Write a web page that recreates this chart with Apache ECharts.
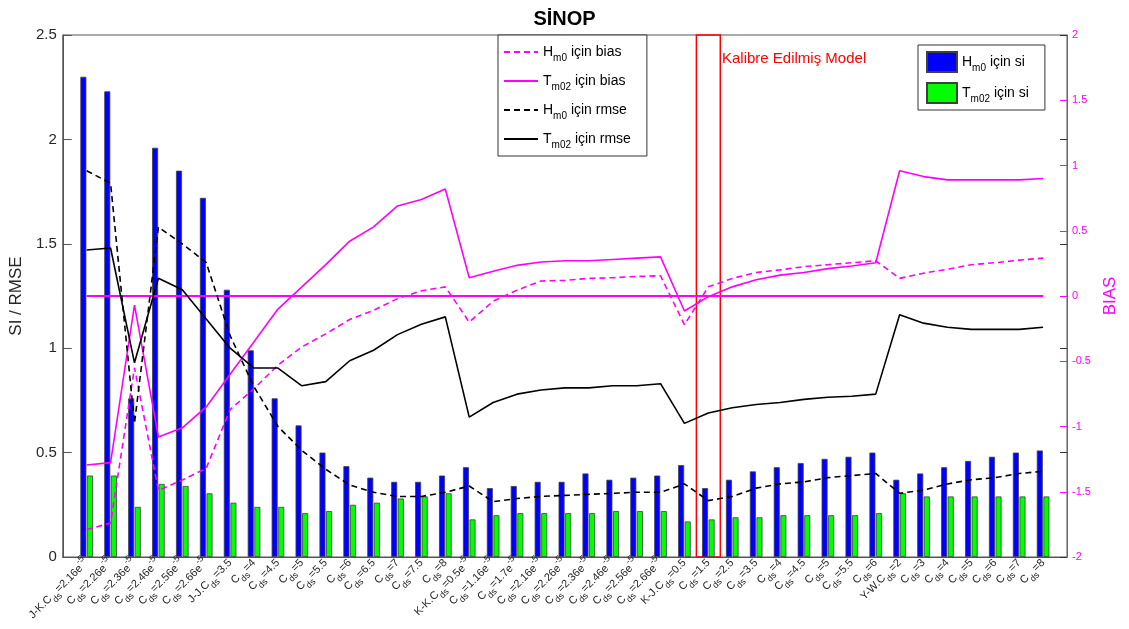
<!DOCTYPE html>
<html>
<head>
<meta charset="utf-8">
<script src="https://cdn.jsdelivr.net/npm/echarts@6/dist/echarts.min.js"></script>
<style>
  html, body { margin: 0; padding: 0; background: #fff; }
  #chart { width: 1129px; height: 629px; }
</style>
</head>
<body>
<div id="chart"></div>
<script>
// kategori etiketleri: _{..} alt simge, ^{..} üst simge
var cats = [
    'J-K.C_{ds}=2.16e^{-5}', 'C_{ds}=2.26e^{-5}', 'C_{ds}=2.36e^{-5}', 'C_{ds}=2.46e^{-5}',
    'C_{ds}=2.56e^{-5}', 'C_{ds}=2.66e^{-5}', 'J-J.C_{ds}=3.5', 'C_{ds}=4', 'C_{ds}=4.5',
    'C_{ds}=5', 'C_{ds}=5.5', 'C_{ds}=6', 'C_{ds}=6.5', 'C_{ds}=7', 'C_{ds}=7.5', 'C_{ds}=8',
    'K-K.C_{ds}=0.5e^{-5}', 'C_{ds}=1.16e^{-5}', 'C_{ds}=1.7e^{-5}', 'C_{ds}=2.16e^{-5}',
    'C_{ds}=2.26e^{-5}', 'C_{ds}=2.36e^{-5}', 'C_{ds}=2.46e^{-5}', 'C_{ds}=2.56e^{-5}',
    'C_{ds}=2.66e^{-5}', 'K-J.C_{ds}=0.5', 'C_{ds}=1.5', 'C_{ds}=2.5', 'C_{ds}=3.5',
    'C_{ds}=4', 'C_{ds}=4.5', 'C_{ds}=5', 'C_{ds}=5.5', 'C_{ds}=6',
    'Y-W.C_{ds}=2', 'C_{ds}=3', 'C_{ds}=4', 'C_{ds}=5', 'C_{ds}=6', 'C_{ds}=7', 'C_{ds}=8'
];

// SI (sol eksen)
var siHm0 = [2.30, 2.23, 0.76, 1.96, 1.85, 1.72, 1.28, 0.99, 0.76, 0.63,
             0.50, 0.435, 0.38, 0.36, 0.36, 0.39, 0.43, 0.33, 0.34, 0.36,
             0.36, 0.40, 0.37, 0.38, 0.39, 0.44, 0.33, 0.37, 0.41, 0.43,
             0.45, 0.47, 0.48, 0.50, 0.37, 0.40, 0.43, 0.46, 0.48, 0.50, 0.51];
var siTm02 = [0.39, 0.39, 0.24, 0.35, 0.34, 0.305, 0.26, 0.24, 0.24, 0.21,
              0.22, 0.25, 0.26, 0.28, 0.29, 0.305, 0.18, 0.20, 0.21, 0.21,
              0.21, 0.21, 0.22, 0.22, 0.22, 0.17, 0.18, 0.19, 0.19, 0.20,
              0.20, 0.20, 0.20, 0.21, 0.305, 0.29, 0.29, 0.29, 0.29, 0.29, 0.29];

// RMSE (sol eksen)
var rmseHm0 = [1.85, 1.79, 0.64, 1.58, 1.50, 1.41, 1.06, 0.815, 0.625, 0.51,
               0.42, 0.345, 0.31, 0.29, 0.29, 0.31, 0.34, 0.265, 0.28, 0.29,
               0.295, 0.30, 0.305, 0.31, 0.31, 0.35, 0.27, 0.29, 0.33, 0.35,
               0.36, 0.38, 0.39, 0.40, 0.305, 0.32, 0.35, 0.37, 0.38, 0.40, 0.41];
var rmseTm02 = [1.47, 1.48, 0.93, 1.335, 1.28, 1.14, 1.00, 0.905, 0.905, 0.82,
                0.84, 0.94, 0.99, 1.065, 1.115, 1.15, 0.67, 0.74, 0.78, 0.80,
                0.81, 0.81, 0.82, 0.82, 0.83, 0.64, 0.69, 0.715, 0.73, 0.74,
                0.755, 0.765, 0.77, 0.78, 1.16, 1.12, 1.10, 1.09, 1.09, 1.09, 1.10];

// BIAS (sağ eksen)
var biasHm0 = [-1.79, -1.74, -0.55, -1.49, -1.41, -1.32, -0.87, -0.71, -0.53, -0.39,
               -0.29, -0.18, -0.11, -0.02, 0.04, 0.07, -0.20, -0.04, 0.045, 0.115,
               0.12, 0.135, 0.14, 0.15, 0.155, -0.22, 0.07, 0.135, 0.18, 0.20,
               0.225, 0.24, 0.255, 0.27, 0.135, 0.175, 0.205, 0.24, 0.255, 0.275, 0.29];
var biasTm02 = [-1.295, -1.277, -0.07, -1.08, -1.01, -0.85, -0.60, -0.35, -0.10, 0.07,
                0.24, 0.42, 0.53, 0.69, 0.74, 0.82, 0.14, 0.19, 0.235, 0.26,
                0.27, 0.27, 0.28, 0.29, 0.30, -0.115, -0.005, 0.07, 0.125, 0.16,
                0.18, 0.21, 0.23, 0.255, 0.96, 0.915, 0.89, 0.89, 0.89, 0.89, 0.90];

var leftTicks = { min: 0, max: 2.5, interval: 0.5 };
var rightTicks = { min: -2, max: 2, interval: 0.5 };
var calibratedIndex = 27;   // C ds=1.5 (K-J)

function toRich(s) {
    return s.replace(/_\{([^}]*)\}/g, '{sub|$1}').replace(/\^\{([^}]*)\}/g, '{sup|$1}');
}
// eksenin iki ucunda birer boş kategori (xlim 0..42 gibi)
function pad(arr) { return [null].concat(arr, [null]); }

var legendNames = {
    'Hm0 için bias': 'H{sub|m0} için bias',
    'Tm02 için bias': 'T{sub|m02} için bias',
    'Hm0 için rmse': 'H{sub|m0} için rmse',
    'Tm02 için rmse': 'T{sub|m02} için rmse',
    'Hm0 için si': 'H{sub|m0} için si',
    'Tm02 için si': 'T{sub|m02} için si'
};

var FONT = '"Liberation Sans", Arial, Helvetica, sans-serif';
var MAG = '#ff00ff';

var legendText = {
    fontFamily: FONT, fontSize: 14, color: '#000', lineHeight: 22,
    rich: { sub: { fontFamily: FONT, fontSize: 10, color: '#000', verticalAlign: 'bottom' } }
};

var option = {
    animation: false,
    backgroundColor: '#fff',
    title: {
        text: 'SİNOP', left: 'center', top: 4,
        textStyle: { fontFamily: FONT, fontSize: 20, fontWeight: 'bold', color: '#000' }
    },
    grid: { left: 61, right: 62, top: 35, bottom: 72, show: true, borderColor: '#555', borderWidth: 1, backgroundColor: '#fff' },
    legend: [{
        data: ['Hm0 için bias', 'Tm02 için bias', 'Hm0 için rmse', 'Tm02 için rmse'],
        orient: 'vertical', left: 498, top: 35,
        padding: [6, 16, 6, 5], itemWidth: 34, itemHeight: 14, itemGap: 7,
        backgroundColor: '#fff', borderColor: '#333', borderWidth: 1,
        itemStyle: { opacity: 0 },
        formatter: function (n) { return legendNames[n]; },
        textStyle: legendText
    }, {
        data: ['Hm0 için si', 'Tm02 için si'],
        orient: 'vertical', left: 918, top: 45, icon: 'rect',
        padding: [6, 16, 6, 8], itemWidth: 30, itemHeight: 20, itemGap: 9,
        backgroundColor: '#fff', borderColor: '#333', borderWidth: 1,
        formatter: function (n) { return legendNames[n]; },
        textStyle: legendText
    }],
    xAxis: [{
        type: 'category',
        data: pad(cats.map(toRich)).map(function (c) { return c === null ? '' : c; }),
        boundaryGap: false,
        axisLine: { lineStyle: { color: '#555' } },
        axisTick: { show: false },
        axisLabel: {
            interval: 0, rotate: 45, margin: 4,
            fontFamily: FONT, fontSize: 11, color: '#262626', lineHeight: 20,
            rich: {
                sub: { fontFamily: FONT, fontSize: 9, color: '#262626', verticalAlign: 'bottom' },
                sup: { fontFamily: FONT, fontSize: 9, color: '#262626', verticalAlign: 'top' }
            }
        },
        splitLine: { show: false }
    }, {
        type: 'value', min: 0, max: 42, show: false
    }],
    yAxis: [{
        type: 'value', min: leftTicks.min, max: leftTicks.max, interval: leftTicks.interval,
        name: 'SI / RMSE', nameLocation: 'middle', nameGap: 30,
        nameTextStyle: { fontFamily: FONT, fontSize: 17, color: '#262626' },
        axisLine: { show: true, lineStyle: { color: '#555' } },
        axisTick: { show: true, inside: true, length: 9, lineStyle: { color: '#555' } },
        axisLabel: { fontFamily: FONT, fontSize: 15, color: '#262626', margin: 6 },
        splitLine: { show: false }
    }, {
        type: 'value', position: 'right', min: rightTicks.min, max: rightTicks.max, interval: rightTicks.interval,
        name: 'BIAS', nameLocation: 'middle', nameGap: 34,
        nameTextStyle: { fontFamily: FONT, fontSize: 17, color: MAG },
        axisLine: { show: true, lineStyle: { color: MAG } },
        axisTick: { show: true, inside: true, length: 7, lineStyle: { color: MAG } },
        axisLabel: { fontFamily: FONT, fontSize: 11, color: MAG, margin: 5 },
        splitLine: { show: false }
    }, {
        // sol eksen çentiklerinin sağdaki yansıması
        type: 'value', position: 'right', offset: 0,
        min: leftTicks.min, max: leftTicks.max, interval: leftTicks.interval,
        axisLine: { show: false },
        axisTick: { show: true, inside: true, length: 7, lineStyle: { color: '#333' } },
        axisLabel: { show: false },
        splitLine: { show: false }
    }],
    series: [{
        name: 'Hm0 için si', type: 'bar', data: pad(siHm0),
        barWidth: 6, barGap: '10%',
        itemStyle: { color: '#0000ff', borderColor: '#404040', borderWidth: 0.8 }
    }, {
        name: 'Tm02 için si', type: 'bar', data: pad(siTm02),
        barWidth: 6,
        itemStyle: { color: '#00ff00', borderColor: '#404040', borderWidth: 0.8 }
    }, {
        name: 'Hm0 için bias', type: 'line', yAxisIndex: 1, data: pad(biasHm0),
        symbol: 'none', z: 5,
        lineStyle: { color: MAG, width: 1.6, type: [6, 4] },
        itemStyle: { color: MAG },
        markLine: {
            silent: true, symbol: 'none', label: { show: false },
            lineStyle: { color: MAG, width: 2, type: 'solid' },
            data: [[{ coord: [1, 0] }, { coord: [cats.length, 0] }]]
        }
    }, {
        name: 'Tm02 için bias', type: 'line', yAxisIndex: 1, data: pad(biasTm02),
        symbol: 'none', z: 5,
        lineStyle: { color: MAG, width: 1.6 },
        itemStyle: { color: MAG }
    }, {
        name: 'Hm0 için rmse', type: 'line', data: pad(rmseHm0),
        symbol: 'none', z: 5,
        lineStyle: { color: '#000', width: 1.6, type: [6, 4] },
        itemStyle: { color: '#000' }
    }, {
        name: 'Tm02 için rmse', type: 'line', data: pad(rmseTm02),
        symbol: 'none', z: 5,
        lineStyle: { color: '#000', width: 1.6 },
        itemStyle: { color: '#000' }
    }, {
        // kalibre edilmiş model kutusu
        name: 'kalibre', type: 'line', xAxisIndex: 1, yAxisIndex: 0, data: [],
        markArea: {
            silent: true,
            itemStyle: { color: 'rgba(0,0,0,0)', borderColor: '#ff0000', borderWidth: 1.5 },
            data: [[{ coord: [calibratedIndex - 0.5, leftTicks.min] }, { coord: [calibratedIndex + 0.5, leftTicks.max] }]]
        },
        z: 6
    }],
    graphic: [{
        type: 'text', left: 722, top: 51,
        style: { text: 'Kalibre Edilmiş Model', fill: '#ff0000', font: '15px ' + FONT }
    }]
};

var chart = echarts.init(document.getElementById('chart'));
chart.setOption(option);
</script>
</body>
</html>
